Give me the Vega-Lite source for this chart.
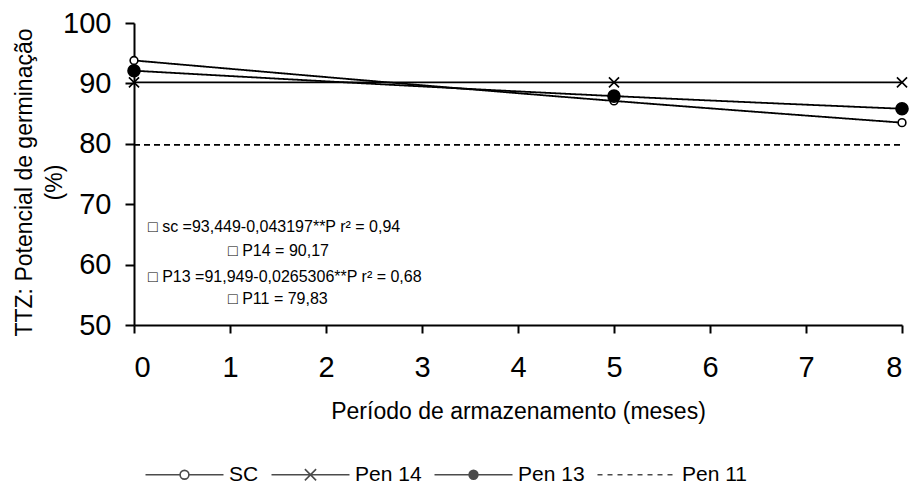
{
  "$schema": "https://vega.github.io/schema/vega-lite/v6.json",
  "width": 768,
  "height": 302,
  "autosize": "none",
  "padding": {"left": 134, "top": 23, "right": 11, "bottom": 157},
  "background": "white",
  "config": {
    "view": {"stroke": null},
    "font": "Liberation Sans",
    "axis": {
      "grid": false,
      "domainColor": "black",
      "domainWidth": 2,
      "tickColor": "black",
      "tickWidth": 2,
      "labelColor": "black",
      "labelFont": "Liberation Sans",
      "labelFontSize": 29,
      "titleColor": "black",
      "titleFont": "Liberation Sans",
      "titleFontSize": 23,
      "titleFontWeight": "normal"
    }
  },
  "datasets": {
    "series": [
      {"serie": "SC", "mes": 0, "valor": 93.8},
      {"serie": "SC", "mes": 5, "valor": 87.1},
      {"serie": "SC", "mes": 8, "valor": 83.5},
      {"serie": "Pen 14", "mes": 0, "valor": 90.17},
      {"serie": "Pen 14", "mes": 5, "valor": 90.17},
      {"serie": "Pen 14", "mes": 8, "valor": 90.17},
      {"serie": "Pen 13", "mes": 0, "valor": 92.1},
      {"serie": "Pen 13", "mes": 5, "valor": 87.9},
      {"serie": "Pen 13", "mes": 8, "valor": 85.8},
      {"serie": "Pen 11", "mes": 0, "valor": 79.83},
      {"serie": "Pen 11", "mes": 8, "valor": 79.83}
    ],
    "equacoes": [
      {"texto": "□ sc =93,449-0,043197**P r² = 0,94", "mes": 0.146, "valor": 66.3},
      {"texto": "□ P14 = 90,17", "mes": 0.98, "valor": 62.2},
      {"texto": "□ P13 =91,949-0,0265306**P  r² = 0,68", "mes": 0.146, "valor": 58.0},
      {"texto": "□ P11 = 79,83", "mes": 0.98, "valor": 54.3}
    ]
  },
  "layer": [
    {
      "data": {"name": "series"},
      "mark": {"type": "line", "interpolate": "monotone", "color": "black", "strokeWidth": 1.8},
      "encoding": {
        "x": {
          "field": "mes",
          "type": "quantitative",
          "scale": {"domain": [0, 8], "nice": false},
          "axis": {
            "title": "Período de armazenamento (meses)",
            "values": [0, 1, 2, 3, 4, 5, 6, 7, 8],
            "format": "d",
            "tickSize": 8,
            "labelPadding": 20,
            "labelBaseline": "top",
            "titleBaseline": "alphabetic",
            "titleY": 93
          }
        },
        "y": {
          "field": "valor",
          "type": "quantitative",
          "scale": {"domain": [50, 100], "nice": false},
          "axis": {
            "title": ["TTZ: Potencial de germinação", "(%)"],
            "values": [50, 60, 70, 80, 90, 100],
            "format": "d",
            "tickSize": 9,
            "labelPadding": 14,
            "titleAngle": -90,
            "titleAlign": "center",
            "titleBaseline": "top",
            "titleLineHeight": 30,
            "titleX": -121,
            "titleY": 159
          }
        },
        "detail": {"field": "serie"},
        "strokeDash": {
          "field": "serie",
          "type": "nominal",
          "scale": {"domain": ["SC", "Pen 14", "Pen 13", "Pen 11"], "range": [[1, 0], [1, 0], [1, 0], [6, 4]]},
          "legend": null
        }
      }
    },
    {
      "data": {"name": "series"},
      "transform": [{"filter": "datum.serie !== 'Pen 11'"}],
      "mark": {"type": "point", "filled": true, "stroke": "black", "strokeWidth": 1.6, "opacity": 1},
      "encoding": {
        "x": {"field": "mes", "type": "quantitative"},
        "y": {"field": "valor", "type": "quantitative"},
        "shape": {
          "field": "serie",
          "type": "nominal",
          "scale": {"domain": ["SC", "Pen 14", "Pen 13"], "range": ["circle", "M-1,-1L1,1M-1,1L1,-1", "circle"]},
          "legend": null
        },
        "fill": {
          "field": "serie",
          "type": "nominal",
          "scale": {"domain": ["SC", "Pen 14", "Pen 13"], "range": ["white", "transparent", "black"]},
          "legend": null
        },
        "size": {
          "field": "serie",
          "type": "nominal",
          "scale": {"domain": ["SC", "Pen 14", "Pen 13"], "range": [60, 144, 60]},
          "legend": null
        }
      }
    },
    {
      "data": {"name": "equacoes"},
      "mark": {"type": "text", "align": "left", "baseline": "middle", "fontSize": 16, "font": "Liberation Sans", "color": "black"},
      "encoding": {
        "x": {"field": "mes", "type": "quantitative"},
        "y": {"field": "valor", "type": "quantitative"},
        "text": {"field": "texto"}
      }
    },
    {
      "data": {"name": "series"},
      "transform": [{"filter": "datum.mes < 0"}],
      "mark": {"type": "point", "color": "black", "strokeWidth": 1.6},
      "encoding": {
        "x": {"field": "mes", "type": "quantitative"},
        "y": {"field": "valor", "type": "quantitative"},
        "shape": {
          "field": "serie",
          "type": "nominal",
          "scale": {
            "domain": ["SC", "Pen 14", "Pen 13", "Pen 11"],
            "range": [
              "M-9.75,0H-1.1M1.1,0H9.75M1.1,0A1.1,1.1,0,1,1,-1.1,0A1.1,1.1,0,1,1,1.1,0",
              "M-9.75,0H9.75M-1.4,-1.4L1.4,1.4M-1.4,1.4L1.4,-1.4",
              "M-9.75,0H9.75M1.1,0A1.1,1.1,0,1,1,-1.1,0A1.1,1.1,0,1,1,1.1,0M0.75,0A0.75,0.75,0,1,1,-0.75,0A0.75,0.75,0,1,1,0.75,0M0.4,0A0.4,0.4,0,1,1,-0.4,0A0.4,0.4,0,1,1,0.4,0M0.12,0A0.12,0.12,0,1,1,-0.12,0A0.12,0.12,0,1,1,0.12,0",
              "M-10,0H-8.75M-7.5,0H-6.25M-5,0H-3.75M-2.5,0H-1.25M0,0H1.25M2.5,0H3.75M5,0H6.25M7.5,0H8.75"
            ]
          },
          "legend": {
            "title": null,
            "orient": "none",
            "legendX": 40,
            "legendY": 441,
            "direction": "horizontal",
            "columns": 4,
            "symbolSize": 64,
            "symbolStrokeWidth": 1.6,
            "labelOffset": 34,
            "labelFont": "Liberation Sans",
            "labelFontSize": 21,
            "labelColor": "black",
            "labelLimit": 200,
            "columnPadding": 9,
            "encode": {
              "symbols": {
                "fill": {"value": "white"},
                "stroke": {"value": "black"},
                "strokeWidth": {"value": 1.6},
                "opacity": {"value": 1},
                "fillOpacity": {"value": 0},
                "strokeOpacity": {"value": 1}
              }
            }
          }
        }
      }
    }
  ],
  "resolve": {"scale": {"shape": "independent", "fill": "independent", "size": "independent"}}
}
